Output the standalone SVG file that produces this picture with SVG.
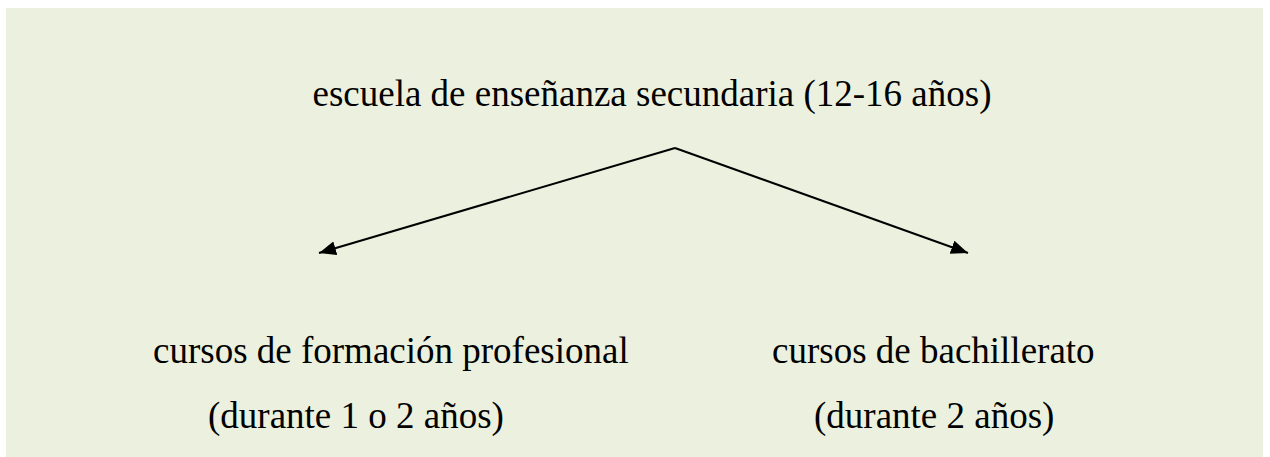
<svg xmlns="http://www.w3.org/2000/svg" width="1270" height="457" viewBox="0 0 1270 457">
<style>
.t{font-size:37px;fill:#000}
.c{stroke:#000;stroke-width:2;fill:none}
</style>
<defs>
<marker id="ah" markerUnits="userSpaceOnUse" markerWidth="20" markerHeight="16" refX="17" refY="7" orient="auto">
<path d="M0,0 L17,7 L0,14 Z" fill="#000"/>
</marker>
</defs>
<rect x="0" y="0" width="1270" height="457" fill="#fff"/>
<rect x="6" y="8" width="1257" height="449" fill="#EBF1DE"/>
<g font-family="'Liberation Serif', 'Times New Roman', serif">
<g id="top"><text class="t" x="652" y="106" text-anchor="middle">escuela de enseñanza secundaria (12-16 años)</text></g>
<g id="left"><text class="t" x="153" y="363">cursos de formación profesional</text><text class="t" x="208" y="428">(durante 1 o 2 años)</text></g>
<g id="right"><text class="t" x="772" y="363">cursos de bachillerato</text><text class="t" x="814" y="428">(durante 2 años)</text></g>
</g>
<g id="connectors">
<path class="c" d="M675,148 L319,253" marker-end="url(#ah)"/>
<path class="c" d="M675,148 L968,253" marker-end="url(#ah)"/>
</g>
</svg>
